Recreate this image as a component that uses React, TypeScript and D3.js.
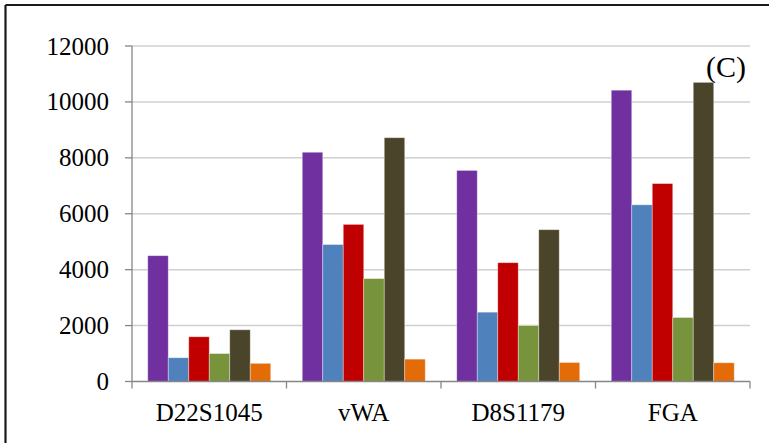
import React from "react";
import * as d3 from "d3";

const categories = ["D22S1045", "vWA", "D8S1179", "FGA"];
const seriesNames = ["S1", "S2", "S3", "S4", "S5", "S6"];
const seriesColors = ["#7030A0", "#4F81BD", "#C00000", "#77933C", "#4A452A", "#E36C09"];
// values[series][category]
const s1 = [4500, 8200, 7550, 10420];
const s2 = [850, 4900, 2480, 6320];
const s3 = [1600, 5620, 4250, 7080];
const s4 = [1000, 3680, 2000, 2290];
const s5 = [1850, 8720, 5430, 10700];
const s6 = [650, 800, 680, 670];
const seriesValues = [s1, s2, s3, s4, s5, s6];
const yTicks = [0, 2000, 4000, 6000, 8000, 10000, 12000];

const W = 769;
const H = 443;
const left = 132;
const right = 750;
const top = 46;
const bottom = 381.5;

const font = "Liberation Serif, DejaVu Serif, Times New Roman, serif";

export default function App() {
  const x = d3.scaleBand<string>().domain(categories).range([left, right]).padding(0);
  const bw = x.bandwidth();
  const gap = bw * 0.102;
  const xi = d3.scaleBand<string>().domain(seriesNames).range([gap, bw - gap]).padding(0);
  const y = d3.scaleLinear().domain([0, 12000]).range([bottom, top]);

  return (
    <svg width={W} height={H} style={{ position: "fixed", left: 0, top: 0, background: "#fff" }}>
      <rect x={0} y={0} width={W} height={H} fill="#fff" />
      {/* outer frame (top and left visible) */}
      <line x1={5.5} y1={5} x2={W} y2={5} stroke="#1a1a1a" strokeWidth={2.2} />
      <line x1={5.5} y1={5} x2={5.5} y2={H} stroke="#1a1a1a" strokeWidth={2.2} />
      {/* gridlines */}
      {yTicks.slice(1).map((t) => (
        <line key={t} x1={left} x2={right} y1={y(t)} y2={y(t)} stroke="#D0D0D0" strokeWidth={1.5} />
      ))}
      {/* bars */}
      {seriesValues.map((vals, si) =>
        categories.map((c, ci) => (
          <rect
            key={`${si}-${ci}`}
            x={(x(c) as number) + (xi(seriesNames[si]) as number)}
            y={y(vals[ci])}
            width={xi.bandwidth()}
            height={y(0) - y(vals[ci])}
            fill={seriesColors[si]}
            stroke="#ffffff"
            strokeOpacity={0.45}
            strokeWidth={0.8}
          />
        ))
      )}
      {/* y axis */}
      <line x1={left} x2={left} y1={top} y2={bottom} stroke="#868686" strokeWidth={1.3} />
      {yTicks.map((t) => (
        <g key={t}>
          <line x1={left - 7} x2={left} y1={y(t)} y2={y(t)} stroke="#868686" strokeWidth={1.3} />
          <text
            x={109}
            y={y(t) + 8.5}
            textAnchor="end"
            style={{ fontFamily: font, fontSize: 25 }}
            fill="#000"
          >
            {t}
          </text>
        </g>
      ))}
      {/* x axis */}
      <line x1={left} x2={right} y1={bottom} y2={bottom} stroke="#868686" strokeWidth={1.3} />
      {[...categories.map((c) => x(c) as number), right].map((p, i) => (
        <line key={i} x1={p} x2={p} y1={bottom} y2={bottom + 7} stroke="#868686" strokeWidth={1.3} />
      ))}
      {categories.map((c) => (
        <text
          key={c}
          x={(x(c) as number) + bw / 2}
          y={421}
          textAnchor="middle"
          style={{ fontFamily: font, fontSize: 25 }}
          fill="#000"
        >
          {c}
        </text>
      ))}
      <text x={706} y={77} style={{ fontFamily: font, fontSize: 30 }} fill="#000">
        (C)
      </text>
    </svg>
  );
}
